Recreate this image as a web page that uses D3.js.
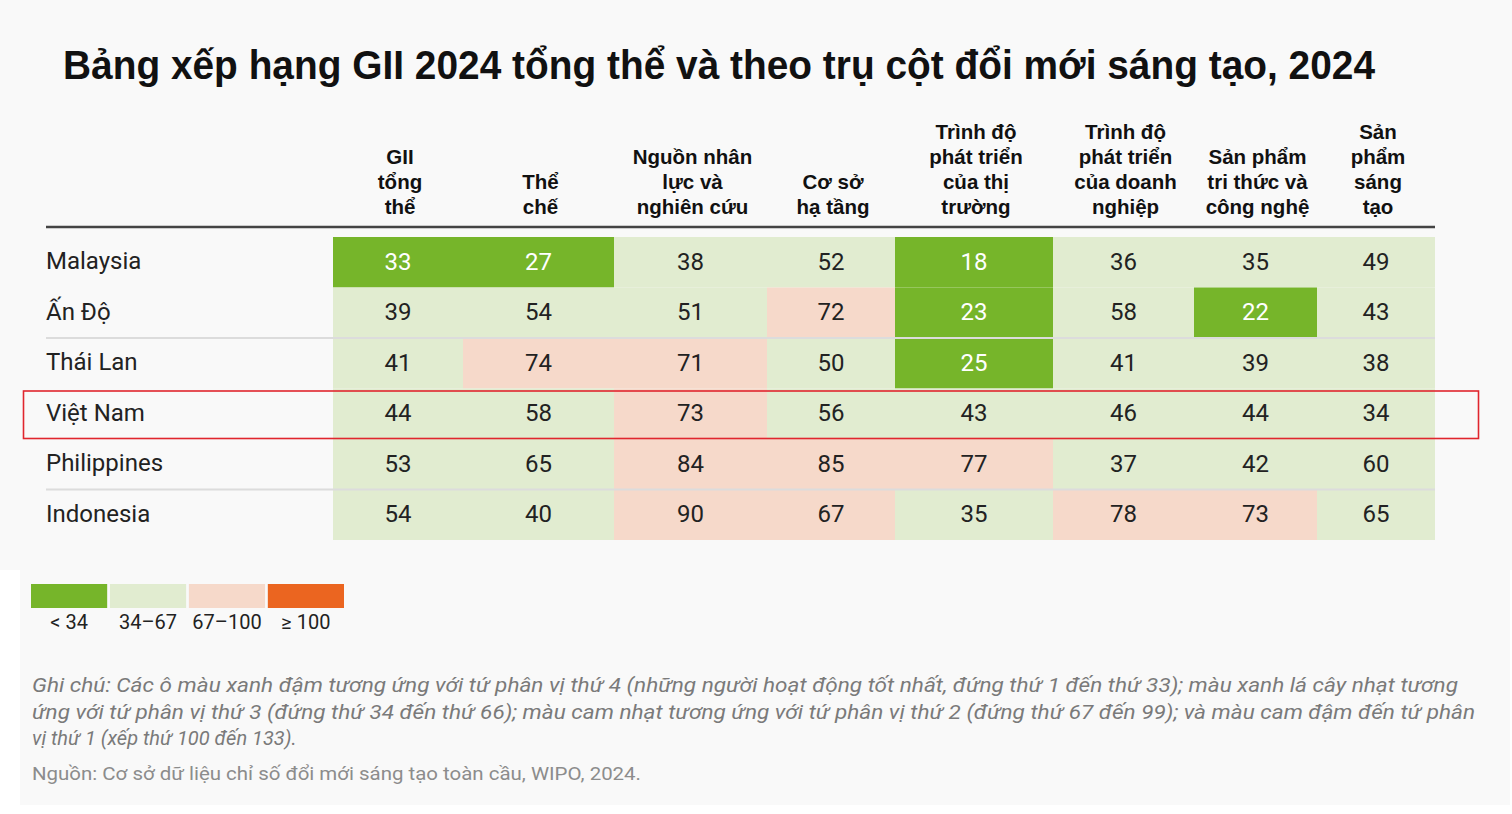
<!DOCTYPE html>
<html><head><meta charset="utf-8">
<script src="https://cdn.jsdelivr.net/npm/d3@7/dist/d3.min.js"></script>
<style>
html,body{margin:0;padding:0;background:#fff;}
svg{display:block;}
</style></head>
<body><svg id="chart" width="1512" height="814"></svg>
<script>
// ---------- DATA ----------
const title = "Bảng xếp hạng GII 2024 tổng thể và theo trụ cột đổi mới sáng tạo, 2024";
const countries = ["Malaysia", "Ấn Độ", "Thái Lan", "Việt Nam", "Philippines", "Indonesia"];
const pillars = ["GII tổng thể", "Thể chế", "Nguồn nhân lực và nghiên cứu", "Cơ sở hạ tầng",
  "Trình độ phát triển của thị trường", "Trình độ phát triển của doanh nghiệp",
  "Sản phẩm tri thức và công nghệ", "Sản phẩm sáng tạo"];
const headerLines = [["GII", "tổng", "thể"], ["Thể", "chế"], ["Nguồn nhân", "lực và", "nghiên cứu"],
  ["Cơ sở", "hạ tầng"], ["Trình độ", "phát triển", "của thị", "trường"],
  ["Trình độ", "phát triển", "của doanh", "nghiệp"], ["Sản phẩm", "tri thức và", "công nghệ"],
  ["Sản", "phẩm", "sáng", "tạo"]];
const malaysia    = [33, 27, 38, 52, 18, 36, 35, 49];
const anDo        = [39, 54, 51, 72, 23, 58, 22, 43];
const thaiLan     = [41, 74, 71, 50, 25, 41, 39, 38];
const vietNam     = [44, 58, 73, 56, 43, 46, 44, 34];
const philippines = [53, 65, 84, 85, 77, 37, 42, 60];
const indonesia   = [54, 40, 90, 67, 35, 78, 73, 65];
const rankThresholds = [34, 67, 100];
const legendLabels = ["< 34", "34–67", "67–100", "≥ 100"];
const highlighted = "Việt Nam";
const separatorsAfter = ["Ấn Độ", "Philippines"];
const noteLines = [
  "Ghi chú: Các ô màu xanh đậm tương ứng với tứ phân vị thứ 4 (những người hoạt động tốt nhất, đứng thứ 1 đến thứ 33); màu xanh lá cây nhạt tương",
  "ứng với tứ phân vị thứ 3 (đứng thứ 34 đến thứ 66); màu cam nhạt tương ứng với tứ phân vị thứ 2 (đứng thứ 67 đến 99); và màu cam đậm đến tứ phân",
  "vị thứ 1 (xếp thứ 100 đến 133)."
];
const source = "Nguồn: Cơ sở dữ liệu chỉ số đổi mới sáng tạo toàn cầu, WIPO, 2024.";

const values = [malaysia, anDo, thaiLan, vietNam, philippines, indonesia];

// ---------- LAYOUT ----------
const colWeights = [130, 151, 153, 128, 158, 141, 123, 118];
const palette = ["#76b52a", "#e1ecd0", "#f6d9ca", "#eb6520"];
const svg = d3.select("#chart");

svg.append("rect").attr("x", 0).attr("y", 0).attr("width", 1512).attr("height", 570).attr("fill", "#f9f9f9");
svg.append("rect").attr("x", 20).attr("y", 570).attr("width", 1490).attr("height", 235).attr("fill", "#f9f9f9");

svg.append("text").attr("x", 63).attr("y", 79)
  .attr("font-family", "'Liberation Sans', Arial, sans-serif").attr("font-weight", "bold")
  .attr("font-size", 40).attr("fill", "#111")
  .attr("textLength", 1312).attr("lengthAdjust", "spacingAndGlyphs")
  .text(title);

// column scale built from cumulative weights
const cum = [0];
colWeights.forEach(w => cum.push(cum[cum.length - 1] + w));
const xEdge = d3.scaleLinear().domain([0, cum[cum.length - 1]]).range([333, 1435]);
const colX0 = i => xEdge(cum[i]);
const colX1 = i => xEdge(cum[i + 1]);
const colC = i => (colX0(i) + colX1(i)) / 2;

const y = d3.scaleBand().domain(countries).range([237, 540]).padding(0);
const color = d3.scaleThreshold().domain(rankThresholds).range(palette);

// headers
const hdr = svg.append("g").attr("font-family", "'Liberation Sans', Arial, sans-serif")
  .attr("font-weight", "bold").attr("font-size", 20.5).attr("fill", "#111").attr("text-anchor", "middle");
pillars.forEach((p, i) => {
  const lines = headerLines[i];
  lines.forEach((ln, j) => {
    hdr.append("text").attr("x", colC(i) + 2).attr("y", 214 - (lines.length - 1 - j) * 25).text(ln);
  });
});
svg.append("line").attr("x1", 46).attr("x2", 1435).attr("y1", 227).attr("y2", 227)
  .attr("stroke", "#444").attr("stroke-width", 2.5);

// cells
const cellData = [];
countries.forEach((c, r) => values[r].forEach((v, i) => cellData.push({c, i, v})));
const cells = svg.append("g");
cells.selectAll("rect").data(cellData).join("rect")
  .attr("x", d => colX0(d.i)).attr("y", d => y(d.c))
  .attr("width", d => colX1(d.i) - colX0(d.i)).attr("height", y.bandwidth())
  .attr("fill", d => color(d.v));

// separators
svg.append("g").selectAll("line").data(separatorsAfter).join("line")
  .attr("x1", 46).attr("x2", 1435)
  .attr("y1", d => y(d) + y.bandwidth()).attr("y2", d => y(d) + y.bandwidth())
  .attr("stroke", "#dcdcdc").attr("stroke-width", 2);

cells.selectAll("text").data(cellData).join("text")
  .attr("x", d => colC(d.i)).attr("y", d => y(d.c) + y.bandwidth() / 2 + 7.5)
  .attr("text-anchor", "middle").attr("font-family", "Roboto, sans-serif").attr("font-size", 24)
  .attr("fill", d => color(d.v) === palette[0] ? "#fff" : "#222")
  .text(d => d.v);

// country labels
svg.append("g").selectAll("text").data(countries).join("text")
  .attr("x", 46).attr("y", d => y(d) + y.bandwidth() / 2 + 7)
  .attr("font-family", "Roboto, sans-serif").attr("font-size", 24).attr("fill", "#222")
  .text(d => d);

// highlight
svg.append("rect").attr("x", 23.5).attr("y", y(highlighted) + 2.5)
  .attr("width", 1455).attr("height", y.bandwidth() - 3)
  .attr("fill", "none").attr("stroke", "#e0262e").attr("stroke-width", 1.6);

// legend
const lx = d3.scaleBand().domain(legendLabels).range([31, 344]).paddingInner(0.035);
const lg = svg.append("g");
lg.selectAll("rect").data(legendLabels).join("rect")
  .attr("x", d => lx(d)).attr("y", 584).attr("width", lx.bandwidth()).attr("height", 24)
  .attr("fill", (d, i) => palette[i]);
lg.selectAll("text").data(legendLabels).join("text")
  .attr("x", d => lx(d) + lx.bandwidth() / 2).attr("y", 629)
  .attr("text-anchor", "middle").attr("font-family", "Roboto, sans-serif").attr("font-size", 20)
  .attr("fill", "#222").text(d => d);

// notes
const noteWidths = [1426, 1443, null];
svg.append("g").selectAll("text").data(noteLines).join("text")
  .attr("x", 32).attr("y", (d, i) => 692 + i * 26.5)
  .attr("font-family", "Roboto, sans-serif").attr("font-style", "italic").attr("font-size", 20)
  .attr("fill", "#7a7a7a")
  .each(function(d, i) {
    if (noteWidths[i]) d3.select(this).attr("textLength", noteWidths[i]).attr("lengthAdjust", "spacingAndGlyphs");
  })
  .text(d => d);

svg.append("text").attr("x", 32).attr("y", 780)
  .attr("font-family", "Roboto, sans-serif").attr("font-size", 18).attr("fill", "#8c8c8c")
  .attr("textLength", 609).attr("lengthAdjust", "spacingAndGlyphs")
  .text(source);
</script></body></html>
